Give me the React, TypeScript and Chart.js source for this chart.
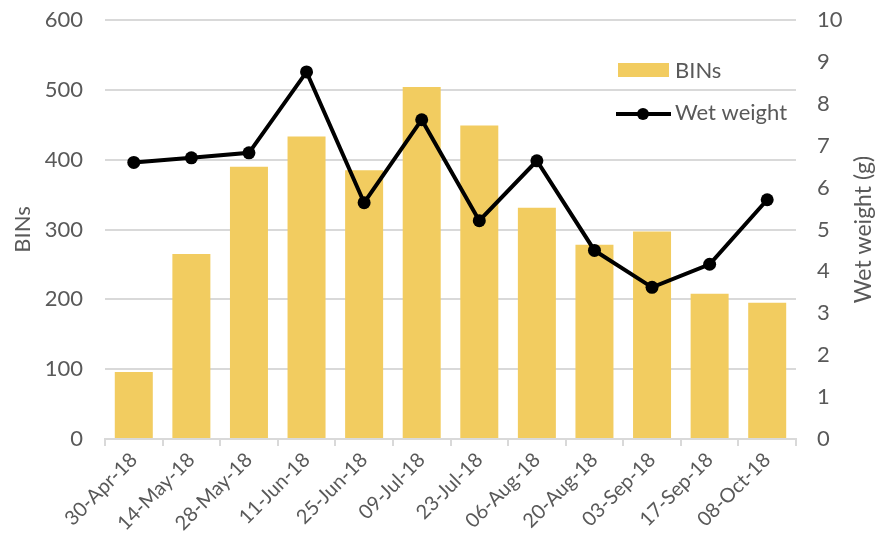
import React, { useEffect, useRef } from "react";
import { Chart, registerables } from "chart.js";

Chart.register(...registerables);

const categories = [
  "30-Apr-18", "14-May-18", "28-May-18", "11-Jun-18", "25-Jun-18", "09-Jul-18",
  "23-Jul-18", "06-Aug-18", "20-Aug-18", "03-Sep-18", "17-Sep-18", "08-Oct-18",
];
const binsValues = [96, 265, 390, 433, 385, 504, 449, 331, 278, 297, 208, 195];
const wetWeightValues = [6.6, 6.71, 6.83, 8.76, 5.64, 7.62, 5.21, 6.64, 4.5, 3.62, 4.17, 5.71];

const FONT = "Lato, 'Open Sans', sans-serif";
const GRAY = "#595959";
const BAR = "#F2CC60";

const legendPlugin = {
  id: "customLegend",
  afterDraw(chart: any) {
    const { ctx, chartArea } = chart;
    const x0 = chartArea.right - 180;
    ctx.save();
    ctx.fillStyle = BAR;
    ctx.fillRect(x0 + 2, 63, 51, 14);
    ctx.font = `22px ${FONT}`;
    ctx.fillStyle = GRAY;
    ctx.textBaseline = "middle";
    ctx.fillText("BINs", x0 + 59, 71);
    ctx.strokeStyle = "#000";
    ctx.lineWidth = 4;
    ctx.beginPath();
    ctx.moveTo(x0, 114);
    ctx.lineTo(x0 + 55, 114);
    ctx.stroke();
    ctx.fillStyle = "#000";
    ctx.beginPath();
    ctx.arc(x0 + 27, 114, 6, 0, Math.PI * 2);
    ctx.fill();
    ctx.fillStyle = GRAY;
    ctx.fillText("Wet weight", x0 + 59, 113);
    // right axis title, reading bottom-to-top
    const cy = (chartArea.top + chartArea.bottom) / 2;
    ctx.font = `23px ${FONT}`;
    ctx.translate(864, cy);
    ctx.rotate(-Math.PI / 2);
    ctx.textAlign = "center";
    ctx.fillText("Wet weight (g)", 0, 0);
    ctx.restore();
  },
};

export default function App() {
  const ref = useRef<HTMLCanvasElement | null>(null);
  useEffect(() => {
    document.body.style.margin = "0";
    const chart = new Chart(ref.current!, {
      data: {
        labels: categories,
        datasets: [
          {
            type: "line",
            label: "Wet weight",
            data: wetWeightValues,
            yAxisID: "y2",
            borderColor: "#000",
            backgroundColor: "#000",
            borderWidth: 4,
            pointRadius: 6.5,
            pointBackgroundColor: "#000",
            pointBorderWidth: 0,
            tension: 0,
            order: 0,
          } as any,
          {
            type: "bar",
            label: "BINs",
            data: binsValues,
            yAxisID: "y",
            backgroundColor: BAR,
            barPercentage: 0.66,
            categoryPercentage: 1,
            order: 1,
          } as any,
        ],
      },
      options: {
        animation: false,
        responsive: false,
        layout: { padding: { top: 20, bottom: 0, left: 10, right: 0 } },
        plugins: { legend: { display: false }, tooltip: { enabled: false } },
        scales: {
          x: {
            offset: true,
            grid: {
              offset: true,
              drawOnChartArea: false,
              drawTicks: true,
              tickLength: 7,
              color: "#d9d9d9",
              lineWidth: 2,
            },
            border: { display: true, color: "#d9d9d9", width: 2 },
            ticks: {
              maxRotation: 45,
              minRotation: 45,
              color: GRAY,
              font: { family: FONT, size: 20 },
              padding: 2,
            },
            afterFit(scale: any) {
              scale.height = 105;
            },
          },
          y: {
            position: "left",
            min: 0,
            max: 600,
            ticks: { stepSize: 100, color: GRAY, font: { family: FONT, size: 22 }, padding: 0 },
            grid: { color: "#d9d9d9", lineWidth: 2, drawTicks: true, tickLength: 22, tickColor: "rgba(0,0,0,0)" },
            border: { display: false },
            title: { display: true, text: "BINs", color: GRAY, font: { family: FONT, size: 22 }, padding: 0 },
            afterFit(scale: any) {
              scale.width = 95;
            },
          },
          y2: {
            position: "right",
            min: 0,
            max: 10,
            ticks: { stepSize: 1, color: GRAY, font: { family: FONT, size: 22 }, padding: 0 },
            grid: { display: true, drawOnChartArea: false, drawTicks: true, tickLength: 21, tickColor: "rgba(0,0,0,0)" },
            border: { display: false },
            afterFit(scale: any) {
              scale.width = 85;
            },
          },
        },
      },
      plugins: [legendPlugin],
    });
    return () => chart.destroy();
  }, []);
  return (
    <div style={{ width: 881, height: 544 }}>
      <canvas ref={ref} width={881} height={544} style={{ display: "block" }} />
    </div>
  );
}
